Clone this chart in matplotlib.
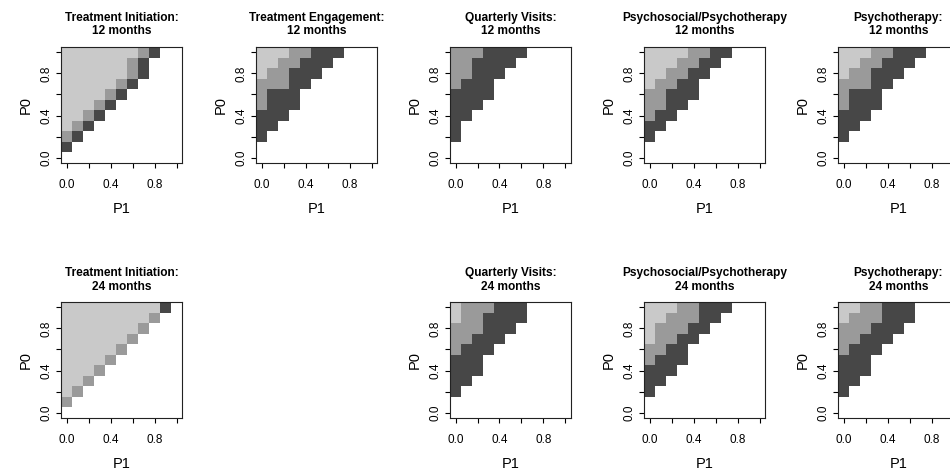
import numpy as np
import matplotlib.pyplot as plt
from matplotlib.colors import ListedColormap

plt.rcParams['font.family'] = ['Liberation Sans', 'DejaVu Sans']

# grid values for P1 (x) and P0 (y)
p_vals = np.round(np.arange(0, 1.01, 0.1), 1)

# each panel: rows from P0=1.0 (top) down to P0=0.0, columns P1=0.0 ... 1.0
# '.' = none, 'D' = dark, 'M' = mid, 'L' = light
init12 = ["LLLLLLLMD..",
          "LLLLLLMD...",
          "LLLLLLMD...",
          "LLLLLMD....",
          "LLLLMD.....",
          "LLLMD......",
          "LLMD.......",
          "LMD........",
          "MD.........",
          "D..........",
          "..........."]
engage12 = ["LLLMMDDD...",
            "LLMMDDD....",
            "LMMDDD.....",
            "MMMDD......",
            "MDDD.......",
            "MDDD.......",
            "DDD........",
            "DD.........",
            "D..........",
            "...........",
            "..........."]
visits12 = ["MMMDDDD....",
            "MMDDDD.....",
            "MMDDD......",
            "MDDD.......",
            "DDDD.......",
            "DDD........",
            "DD.........",
            "D..........",
            "D..........",
            "...........",
            "..........."]
psysoc12 = ["LLLLMMDD...",
            "LLLMMDD....",
            "LLMMDD.....",
            "LMMDD......",
            "MMDDD......",
            "MMDD.......",
            "MDD........",
            "DD.........",
            "D..........",
            "...........",
            "..........."]
psy12 = ["LLLMMDDD...",
         "LLMMDDD....",
         "LMMDDD.....",
         "MMMDD......",
         "MDDD.......",
         "MDDD.......",
         "DDD........",
         "DD.........",
         "D..........",
         "...........",
         "..........."]
init24 = ["LLLLLLLLLD.",
          "LLLLLLLLM..",
          "LLLLLLLM...",
          "LLLLLLM....",
          "LLLLLM.....",
          "LLLLM......",
          "LLLM.......",
          "LLM........",
          "LM.........",
          "M..........",
          "..........."]
visits24 = ["LMMMDDD....",
            "LMMDDDD....",
            "MMMDDD.....",
            "MMDDD......",
            "MDDD.......",
            "DDD........",
            "DDD........",
            "DD.........",
            "D..........",
            "...........",
            "..........."]
psysoc24 = ["LLLMMDDD...",
            "LLMMMDD....",
            "LMMMDD.....",
            "LMMDD......",
            "MMDD.......",
            "MDDD.......",
            "DDD........",
            "DD.........",
            "D..........",
            "...........",
            "..........."]
psy24 = ["LLMMDDD....",
         "LMMMDDD....",
         "MMMDDD.....",
         "MMDDD......",
         "MDDD.......",
         "DDD........",
         "DDD........",
         "DD.........",
         "D..........",
         "...........",
         "..........."]

titles = ["Treatment Initiation:", "Treatment Engagement:", "Quarterly Visits:",
          "Psychosocial/Psychotherapy", "Psychotherapy:"]

panels = [(0, 0, titles[0] + "\n12 months", init12),
          (0, 1, titles[1] + "\n12 months", engage12),
          (0, 2, titles[2] + "\n12 months", visits12),
          (0, 3, titles[3] + "\n12 months", psysoc12),
          (0, 4, titles[4] + "\n12 months", psy12),
          (1, 0, titles[0] + "\n24 months", init24),
          (1, 2, titles[2] + "\n24 months", visits24),
          (1, 3, titles[3] + "\n24 months", psysoc24),
          (1, 4, titles[4] + "\n24 months", psy24)]

code = {'.': 0, 'D': 1, 'M': 2, 'L': 3}
cmap = ListedColormap(['white', '#474747', '#9a9a9a', '#c9c9c9'])

W, H = 950, 473
fig = plt.figure(figsize=(W / 100, H / 100), dpi=100)

lefts = [61, 256, 450, 644, 838]
tops = [47, 302]
aw, ah = 121, 116

for r, c, title, rows in panels:
    ax = fig.add_axes([lefts[c] / W, (H - tops[r] - ah) / H, aw / W, ah / H])
    z = np.array([[code[ch] for ch in row] for row in rows[::-1]])
    ax.pcolormesh(p_vals, p_vals, z, cmap=cmap, vmin=0, vmax=3, shading='nearest')
    ax.set_xlim(-0.05, 1.05)
    ax.set_ylim(-0.05, 1.05)
    ticks = [0, 0.2, 0.4, 0.6, 0.8, 1.0]
    labs = ["0.0", "", "0.4", "", "0.8", ""]
    ax.set_xticks(ticks)
    ax.set_xticklabels(labs)
    ax.set_yticks(ticks)
    ax.set_yticklabels(labs, rotation=90, va='center')
    ax.tick_params(axis='x', length=3.5, width=0.8, pad=8, labelsize=8.5)
    ax.tick_params(axis='y', length=3.5, width=0.8, pad=2.5, labelsize=8.5)
    for s in ax.spines.values():
        s.set_linewidth(0.8)
        s.set_color('#222222')
    ax.set_xlabel("P1", fontsize=10.5, labelpad=8)
    ax.set_ylabel("P0", fontsize=10.5, labelpad=6)
    ax.set_title(title, fontsize=8.6, fontweight='bold', pad=9, linespacing=1.15)

fig.savefig("out.png", dpi=100)
